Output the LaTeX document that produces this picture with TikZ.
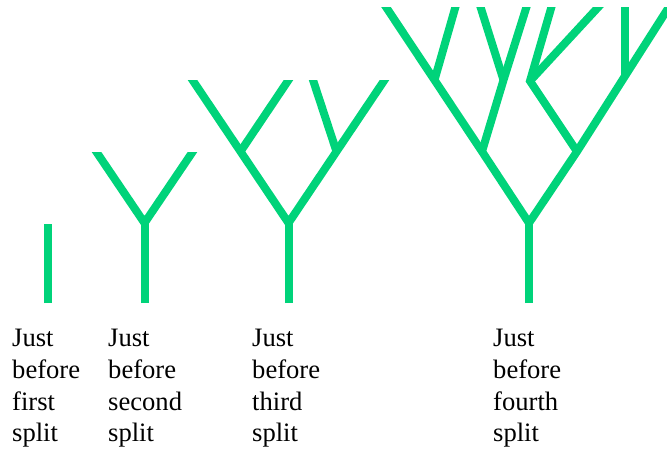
\documentclass[tikz,border=0pt]{standalone}
\usepackage{fontspec}
\setmainfont{Liberation Serif}
\definecolor{sprout}{RGB}{0,211,122}
\tikzset{
  limb/.style={draw=sprout, line width=8pt, line cap=butt, line join=miter},
  outtip/.style={shorten >=-12pt},
  bothtips/.style={shorten <=-12pt, shorten >=-12pt},
  caption/.style={anchor=base west, inner sep=0pt, font=\fontsize{26.6}{31.7}\selectfont}
}
\newcommand{\stage}[1]{\begin{tabular}[t]{@{}l@{}}Just\\before\\#1\\split\end{tabular}}
\begin{document}
\begin{tikzpicture}[x=1pt,y=-1pt]
\useasboundingbox (0,0) rectangle (667,448);

% stage 1: a single shoot
\coordinate (p0) at (48,303);
\coordinate (p1) at (48,224);
\draw[limb] (p0) -- (p1);

% stage 2: one fork
\begin{scope}
  \clip (60,152) rectangle (240,320);
  \coordinate (q0) at (144.5,303);
  \coordinate (qj) at (144.5,223);
  \coordinate (ql) at (96.5,152);
  \coordinate (qr) at (192.5,152);
  \draw[limb] (q0) -- (qj);
  \draw[limb, bothtips] (ql) -- (qj) -- (qr);
\end{scope}

% stage 3: two forks
\begin{scope}
  \clip (150,80) rectangle (410,320);
  \coordinate (r0) at (288.5,303);
  \coordinate (rj) at (288.5,223);
  \coordinate (rl) at (240.5,151.5);
  \coordinate (rr) at (336.5,151.5);
  \coordinate (rt1) at (192.5,80);
  \coordinate (rt2) at (288.5,80);
  \coordinate (rt3) at (313,80);
  \coordinate (rt4) at (384.5,80);
  \draw[limb] (r0) -- (rj);
  \draw[limb, bothtips] (rt1) -- (rl) -- (rj) -- (rr) -- (rt4);
  \draw[limb, outtip] (rl) -- (rt2);
  \draw[limb, outtip] (rr) -- (rt3);
\end{scope}

% stage 4: many forks
\begin{scope}
  \clip (370,7.5) rectangle (667,320);
  \coordinate (s0) at (529,303);
  \coordinate (sj) at (529,223);
  \coordinate (sa) at (482,151.5);
  \coordinate (sb) at (434.5,80);
  \coordinate (sc) at (503.5,80);
  \coordinate (sd) at (577,151.5);
  \coordinate (se) at (625,76);
  \coordinate (sf) at (530,81);
  \coordinate (st1) at (387,8.5);
  \coordinate (st2) at (455,8.5);
  \coordinate (st3) at (481,8.5);
  \coordinate (st4) at (526,8.5);
  \coordinate (st5) at (551,8.5);
  \coordinate (st6) at (597,8.5);
  \coordinate (st7) at (625,8.5);
  \coordinate (st8) at (668,8.5);
  \draw[limb] (s0) -- (sj);
  \draw[limb, bothtips] (st1) -- (sb) -- (sa) -- (sj) -- (sd) -- (se) -- (st8);
  \draw[limb, outtip] (sb) -- (st2);
  \draw[limb, outtip] (sa) -- (sc) -- (st4);
  \draw[limb, outtip] (sc) -- (st3);
  \draw[limb, outtip] (sd) -- (sf) -- (st5);
  \draw[limb, outtip] (sf) -- (st6);
  \draw[limb, outtip] (se) -- (st7);
\end{scope}

% captions
\node[caption] (c1) at (12,346.7)  {\stage{first}};
\node[caption] (c2) at (108,346.7) {\stage{second}};
\node[caption] (c3) at (252,346.7) {\stage{third}};
\node[caption] (c4) at (493,346.7) {\stage{fourth}};
\end{tikzpicture}
\end{document}
